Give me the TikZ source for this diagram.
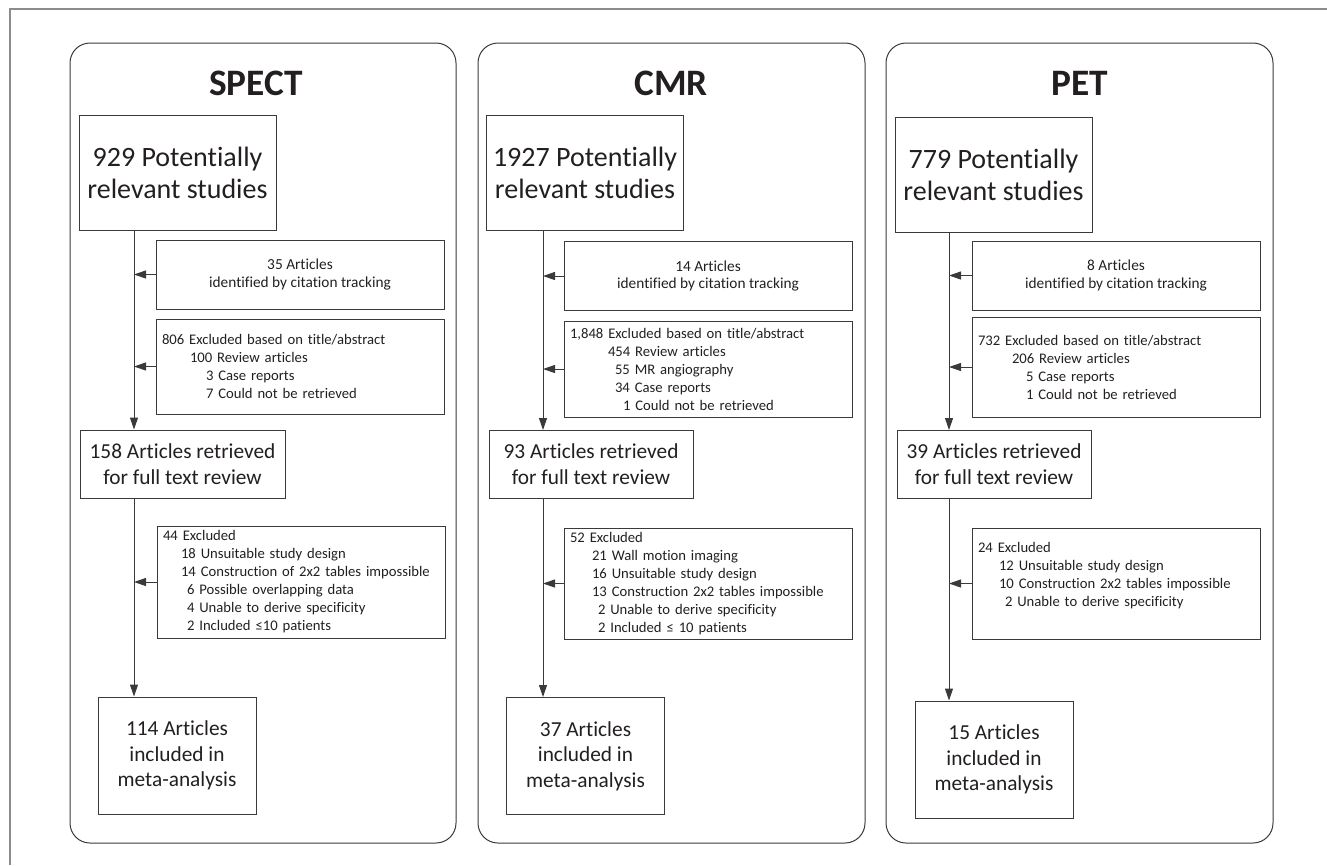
\documentclass[tikz,border=0pt]{standalone}
\usepackage{fontspec}
\setmainfont{Carlito}[Ligatures={NoCommon}]
\usetikzlibrary{arrows.meta}

\definecolor{inkc}{HTML}{231F20}
\definecolor{linec}{HTML}{3A3A3A}
\definecolor{framec}{HTML}{8C8C8C}

\tikzset{every picture/.style={line width=0.75pt}}
\tikzset{
  panel/.style={draw=linec, rounded corners=15pt},
  title/.style={font=\fontsize{28}{32}\selectfont\bfseries, text=inkc, inner sep=0pt},
  bigbox/.style={draw=linec, text=inkc, align=center, font=\fontsize{21}{24}\selectfont, minimum width=147.75pt, minimum height=86.25pt, inner sep=0pt},
  midbox/.style={draw=linec, text=inkc, align=center, font=\fontsize{16}{19.5}\selectfont, minimum height=51pt, inner sep=0pt},
  endbox/.style={draw=linec, text=inkc, align=center, font=\fontsize{16}{19}\selectfont, minimum width=118.5pt, minimum height=87.75pt, inner sep=0pt},
  citebox/.style={draw=linec, text=inkc, align=center, font=\fontsize{11.5}{13}\selectfont, minimum width=216pt, minimum height=51.75pt, inner sep=0pt},
  exclbox/.style={draw=linec, text=inkc, align=left, font=\fontsize{11}{13.5}\selectfont, text width=207pt, inner xsep=4.5pt, inner ysep=0pt},
  flow/.style={draw=linec, -{Triangle[length=9pt,width=6pt]}}
}

\begin{document}
\begin{tikzpicture}[x=0.75pt,y=0.75pt,yscale=-1,xscale=1]
	\useasboundingbox (0,0) rectangle (1327,865);
	
	%Frame
	\draw [framec, line width=1pt] (10,865) -- (10,9) -- (1327,9) ;
	
	%Panels
	\draw [panel] (70,43) rectangle (456,843) ;
	\draw [panel] (478,43) rectangle (865,843) ;
	\draw [panel] (886,43) rectangle (1273,843) ;
	
	% SPECT
	\node [title] (spectT) at (256,83) {SPECT};
	\node [bigbox] (s1) at (177.5,172.5) {929 Potentially\\relevant studies};
	\node [citebox] (s2) at (300,274.5) {35 Articles\\identified by citation tracking};
	\node [exclbox, minimum height=71.25pt] (s3) at (300,366.5) {806 Excluded based on title/abstract\\
		\hspace*{21pt}100 Review articles\\
		\hspace*{33pt}3 Case reports\\
		\hspace*{33pt}7 Could not be retrieved};
	\node [midbox, minimum width=153.75pt] (s4) at (182.5,464) {158 Articles retrieved\\for full text review};
	\node [exclbox, minimum height=84pt] (s5) at (301,582) {44 Excluded\\
		\hspace*{13.5pt}18 Unsuitable study design\\
		\hspace*{13.5pt}14 Construction of 2x2 tables impossible\\
		\hspace*{18pt}6 Possible overlapping data\\
		\hspace*{18pt}4 Unable to derive specificity\\
		\hspace*{18pt}2 Included ≤10 patients};
	\node [endbox] (s6) at (177,755.5) {114 Articles\\included in\\meta-analysis};
	\coordinate (sx) at (134,0);
	\draw [flow] (s1.south -| sx) -- (s4.north -| sx) ;
	\draw [flow] (s4.south -| sx) -- (s6.north -| sx) ;
	\draw [flow] (s2.west) -- (s2.west -| sx) ;
	\draw [flow] (s3.west) -- (s3.west -| sx) ;
	\draw [flow] (s5.west) -- (s5.west -| sx) ;
	
	% CMR
	\node [title] (cmrT) at (671,83) {CMR};
	\node [bigbox] (c1) at (585,172.5) {1927 Potentially\\relevant studies};
	\node [citebox] (c2) at (708,276) {14 Articles\\identified by citation tracking};
	\node [exclbox, minimum height=72pt] (c3) at (708,369) {1,848 Excluded based on title/abstract\\
		\hspace*{28.5pt}454 Review articles\\
		\hspace*{33.75pt}55 MR angiography\\
		\hspace*{33.75pt}34 Case reports\\
		\hspace*{39.75pt}1 Could not be retrieved};
	\node [midbox, minimum width=153pt] (c4) at (591,464.5) {93 Articles retrieved\\for full text review};
	\node [exclbox, minimum height=83.25pt] (c5) at (708,583.5) {52 Excluded\\
		\hspace*{16.5pt}21 Wall motion imaging\\
		\hspace*{16.5pt}16 Unsuitable study design\\
		\hspace*{16.5pt}13 Construction 2x2 tables impossible\\
		\hspace*{21pt}2 Unable to derive specificity\\
		\hspace*{21pt}2 Included ≤ 10 patients};
	\node [endbox] (c6) at (585.5,756) {37 Articles\\included in\\meta-analysis};
	\coordinate (cx) at (543,0);
	\draw [flow] (c1.south -| cx) -- (c4.north -| cx) ;
	\draw [flow] (c4.south -| cx) -- (c6.north -| cx) ;
	\draw [flow] (c2.west) -- (c2.west -| cx) ;
	\draw [flow] (c3.west) -- (c3.west -| cx) ;
	\draw [flow] (c5.west) -- (c5.west -| cx) ;
	
	% PET
	\node [title] (petT) at (1080,83) {PET};
	\node [bigbox] (p1) at (993.5,175) {779 Potentially\\relevant studies};
	\node [citebox] (p2) at (1116,275.5) {8 Articles\\identified by citation tracking};
	\node [exclbox, minimum height=75pt] (p3) at (1116,367) {732 Excluded based on title/abstract\\
		\hspace*{25.5pt}206 Review articles\\
		\hspace*{36pt}5 Case reports\\
		\hspace*{36pt}1 Could not be retrieved};
	\node [midbox, minimum width=145.5pt] (p4) at (994,464.5) {39 Articles retrieved\\for full text review};
	\node [exclbox, minimum height=83.25pt] (p5) at (1116,583.5) {24 Excluded\\
		\hspace*{15.75pt}12 Unsuitable study design\\
		\hspace*{15.75pt}10 Construction 2x2 tables impossible\\
		\hspace*{20.25pt}2 Unable to derive specificity\\ \mbox{}};
	\node [endbox] (p6) at (994,759.5) {15 Articles\\included in\\meta-analysis};
	\coordinate (px) at (949,0);
	\draw [flow] (p1.south -| px) -- (p4.north -| px) ;
	\draw [flow] (p4.south -| px) -- (p6.north -| px) ;
	\draw [flow] (p2.west) -- (p2.west -| px) ;
	\draw [flow] (p3.west) -- (p3.west -| px) ;
	\draw [flow] (p5.west) -- (p5.west -| px) ;
	
\end{tikzpicture}
\end{document}
